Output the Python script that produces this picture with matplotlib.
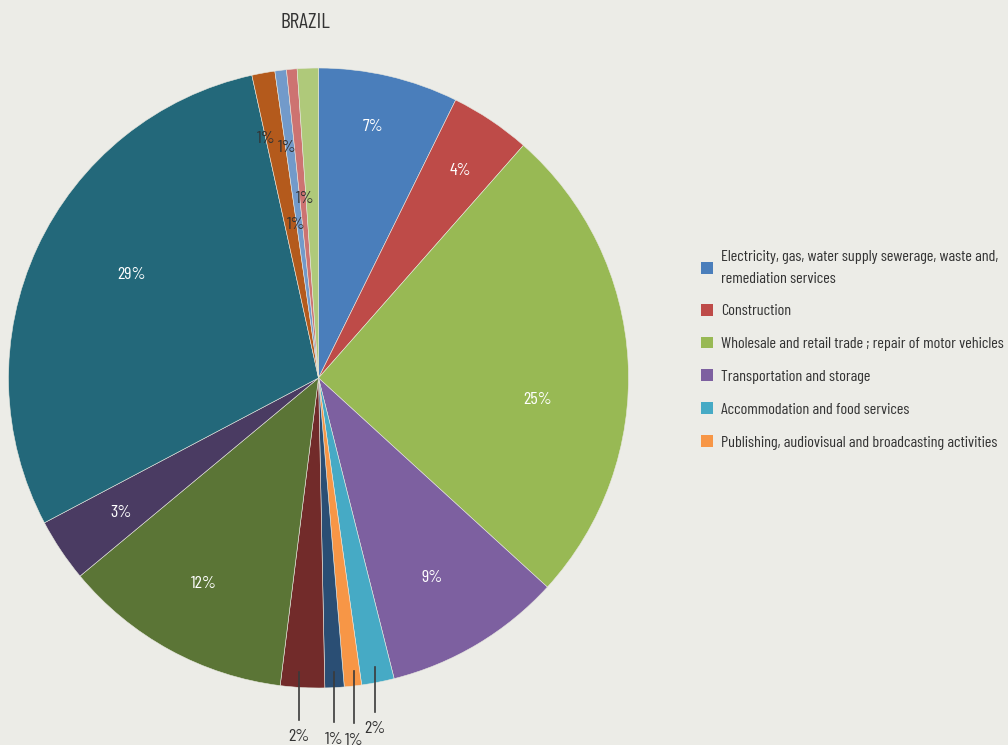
import matplotlib
matplotlib.use("Agg")
import numpy as np
import matplotlib.pyplot as plt
from matplotlib.patches import Patch

plt.rcParams['font.family'] = ['Barlow Condensed', 'Roboto Condensed', 'DejaVu Sans']

# Share of each sector (percent), clockwise from 12 o'clock
shares = [7.3, 4.2, 25.3, 9.3, 1.7, 0.9, 1.0, 2.3, 12.0, 3.3, 29.3, 1.2, 0.6, 0.55, 1.1]

legend_labels = [
    "Electricity, gas, water supply sewerage, waste and,\nremediation services",
    "Construction",
    "Wholesale and retail trade ; repair of motor vehicles",
    "Transportation and storage",
    "Accommodation and food services",
    "Publishing, audiovisual and broadcasting activities",
]

colors = ["#4A7EBB", "#BE4B48", "#98B954", "#7D60A0", "#46AAC5", "#F79646",
          "#2A4E74", "#722B2A", "#5B7536", "#4A3B62", "#23687A", "#B45A1C",
          "#729ACA", "#CD7371", "#AFC97A"]

# label placement: radius (fraction of pie radius) and angular nudge (deg, clockwise)
label_r = [0.83, 0.81, 0.71, 0.74, None, None, None, None, 0.76, 0.77, 0.69, 0.79, 0.75, 0.58, 0.50]
label_nudge = [-1, 0.5, 8.6, 1.3, 0, 0, 0, 0, 0.4, -0.5, 4, -2.2, -0.8, 0.8, -6.2]
label_dark = [False] * 11 + [True] * 4
# slices labelled below the pie with a leader line: index -> (x shift, line end y)
leader = {4: (0.0, -1.077), 5: (0.01, -1.113), 6: (0.0, -1.11), 7: (-0.014, -1.103)}

bg = "#ECECE7"
txt = "#333333"
fs = 13

fig = plt.figure(figsize=(10.08, 7.45), dpi=100, facecolor=bg)
W, H = 1008, 745
cx, cy, R = 318.5, 378, 310
L = 1.0274
side = 2 * L * R
ax = fig.add_axes([(cx - side / 2) / W, (H - cy - side / 2) / H, side / W, side / H])
ax.set_facecolor(bg)

wedges, _ = ax.pie(shares, colors=colors, startangle=90, counterclock=False,
                   radius=1, wedgeprops=dict(edgecolor="#E8E8E0", linewidth=0.4))
ax.set_xlim(-L, L)
ax.set_ylim(-L, L)
ax.set_aspect('equal')
ax.axis('off')

total = sum(shares)
for i, w in enumerate(wedges):
    pct = shares[i] / total * 100
    lab = f"{round(pct):.0f}%"
    mid = (w.theta1 + w.theta2) / 2.0  # counterclockwise from +x
    if i in leader:
        dx, y1 = leader[i]
        a = np.deg2rad(mid)
        x0, y0 = 0.95 * np.cos(a) + dx, 0.95 * np.sin(a)
        ax.plot([x0, x0], [y0, y1], color="#3a3a3a", lw=1.2, clip_on=False)
        ax.text(x0, y1 - 0.055, lab, ha='center', va='center', fontsize=fs, color=txt)
    else:
        a = np.deg2rad(mid - label_nudge[i])
        r = label_r[i]
        ax.text(r * np.cos(a), r * np.sin(a), lab, ha='center', va='center', fontsize=fs,
                color=txt if label_dark[i] else "white")

fig.text(305 / W, 1 - 22 / H, "BRAZIL", ha='center', va='center', fontsize=15.5, color=txt)

handles = [Patch(facecolor=colors[i], edgecolor='none') for i in range(len(legend_labels))]
leg = fig.legend(handles=handles, labels=legend_labels, loc='upper left',
                 bbox_to_anchor=(701 / W, 1 - 250 / H), frameon=False, fontsize=11.7,
                 handlelength=0.74, handleheight=0.74, handletextpad=0.5,
                 labelspacing=1.12, labelcolor=txt, borderaxespad=0, borderpad=0)
for t in leg.get_texts():
    t.set_linespacing(1.7)

fig.savefig("out.png", dpi=100, facecolor=bg)
